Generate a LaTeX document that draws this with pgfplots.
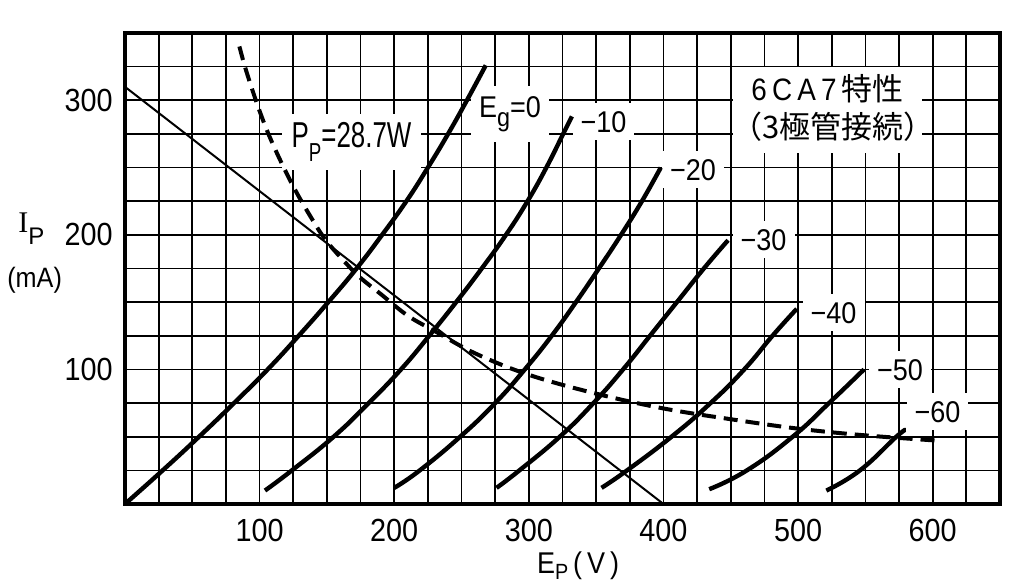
\documentclass[border=0pt]{standalone}
\usepackage{pgfplots}
\pgfplotsset{compat=1.18}
\usepackage{fontspec}
\setmainfont{Liberation Sans}
\newfontfamily\tickfont{Liberation Sans}[FakeStretch=0.9]
\newfontfamily\ppfont{Liberation Sans}[FakeStretch=0.72]
\newfontfamily\cjk{Noto Sans CJK JP}
\newfontfamily\seriff{Liberation Serif}
\begin{document}
\begin{tikzpicture}
\begin{axis}[
  at={(0,0)}, anchor=south west,
  width=437.5pt, height=235.5pt, scale only axis,
  xmin=0, xmax=650, ymin=0, ymax=350,
  xtick={100,200,300,400,500,600},
  xticklabels={100,200,300,400,500,600},
  ytick={100,200,300}, yticklabels={100,200,300},
  minor xtick={0,25,...,650}, minor ytick={0,25,...,350},
  grid=both,
  major grid style={black, line width=0.85pt},
  minor grid style={black, line width=0.85pt},
  major tick length=0pt, minor tick length=0pt,
  axis line style={line width=1.8pt},
  xticklabel style={font=\tickfont\fontsize{16}{16}\selectfont, inner sep=0pt, anchor=north, yshift=-7.5pt},
  yticklabel style={font=\tickfont\fontsize{16}{16}\selectfont, inner sep=0pt, anchor=east, xshift=-6pt},
  clip=false,
]
% label boxes
\node[fill=white, inner xsep=5pt, inner ysep=4pt, anchor=base, font=\ppfont\fontsize{18}{18}\selectfont]
  at (axis cs:168.3,265.2) {P\raisebox{-0.4em}{\fontsize{13}{13}\selectfont P}=28.7W};
\node[fill=white, inner xsep=4pt, inner ysep=5pt, anchor=base, font=\tickfont\fontsize{15}{15}\selectfont]
  at (axis cs:286,287.5) {E\raisebox{-0.3em}{\fontsize{13}{13}\selectfont g}=0};
\node[fill=white, inner xsep=4pt, inner ysep=4pt, anchor=base, font=\tickfont\fontsize{15}{15}\selectfont]
  at (axis cs:355.5,276.4) {−10};
\node[fill=white, inner xsep=4pt, inner ysep=4pt, anchor=base, font=\tickfont\fontsize{15}{15}\selectfont]
  at (axis cs:422,240.7) {−20};
\node[fill=white, inner xsep=4pt, inner ysep=4pt, anchor=base, font=\tickfont\fontsize{15}{15}\selectfont]
  at (axis cs:474.4,188.7) {−30};
\node[fill=white, inner xsep=4pt, inner ysep=4pt, anchor=base, font=\tickfont\fontsize{15}{15}\selectfont]
  at (axis cs:526.4,134.5) {−40};
\node[fill=white, inner xsep=4pt, inner ysep=4pt, anchor=base, font=\tickfont\fontsize{15}{15}\selectfont]
  at (axis cs:575.8,92.1) {−50};
\node[fill=white, inner xsep=4pt, inner ysep=4pt, anchor=base, font=\tickfont\fontsize{15}{15}\selectfont]
  at (axis cs:603.6,60.9) {−60};
\node[fill=white, minimum width=94.5pt, minimum height=43pt, inner sep=0pt]
  at (axis cs:521.9,292.7) {};
\node[anchor=base, inner sep=0pt, font=\tickfont\fontsize{15.5}{15.5}\selectfont]
  at (axis cs:522,300.1) {6\,C\,A\,7\,{\cjk 特性}};
\node[anchor=base, inner sep=0pt, font=\cjk\fontsize{15.5}{15.5}\selectfont]
  at (axis cs:526,271.9) {（3極管接続）};
% axis titles
\node[anchor=base west, inner sep=0pt, font=\fontsize{15}{15}\selectfont]
  at (axis cs:-79.5,202.1) {{\seriff I}\raisebox{-0.4em}{\fontsize{12}{12}\selectfont P}};
\node[anchor=base west, inner sep=0pt, font=\tickfont\fontsize{14}{14}\selectfont]
  at (axis cs:-87.7,161.2) {(mA)};
\node[anchor=base, inner sep=0pt, font=\tickfont\fontsize{15}{15}\selectfont]
  at (axis cs:336.6,-52) {E\raisebox{-0.2em}{\fontsize{11}{11}\selectfont P}\,(\,V\,)};
% load line
\addplot[black, line width=1pt] coordinates {(0,310) (400,0)};
% plate dissipation curve
\addplot[black, line width=2pt, dash pattern=on 7pt off 4pt, smooth, tension=0.6] coordinates {
(85,340) (90,322) (100,292) (110,267) (125,236) (140,210) (150,195) (165,178) (175,168)
(190,156) (210,140) (231,128) (260,112) (300,96) (350,82) (400,71) (450,63) (500,56) (550,51) (605,47)};
% characteristic curves
\addplot[black, line width=2.2pt, smooth, tension=0.8] coordinates {
(0,0) (28,25) (55,50) (81,75) (106,100) (129,125) (151,150) (172,175) (191,200) (209,225) (225,250) (240,275) (254,300) (268,326)};
\addplot[black, line width=2.2pt, smooth, tension=0.8] coordinates {
(104,10) (124,25) (155,50) (181,75) (205,100) (226,125) (246,150) (265,175) (283,200) (299,225) (313,250) (325.5,275) (332,288)};
\addplot[black, line width=2.2pt, smooth, tension=0.8] coordinates {
(200,12) (219,25) (249,50) (275,75) (297,100) (317,125) (335,150) (352,175) (368.5,200) (384,225) (398,250)};
\addplot[black, line width=2.2pt, smooth, tension=0.8] coordinates {
(276,12) (293,25) (323,50) (348,75) (370,100) (390,125) (410,150) (430,175) (448,196)};
\addplot[black, line width=2.2pt, smooth, tension=0.8] coordinates {
(354,12) (373,25) (406,50) (435,75) (460,100) (481,125) (499,145)};
\addplot[black, line width=2.2pt, smooth, tension=0.8] coordinates {
(434,11) (462,25) (496,50) (523,75) (549,100)};
\addplot[black, line width=2.2pt, smooth, tension=0.8] coordinates {
(521,10) (546,25) (573,50) (580,55)};
\end{axis}
\pgfresetboundingbox
\useasboundingbox (-62.5pt,-40pt) rectangle (449.5pt,252pt);
\end{tikzpicture}
\end{document}
